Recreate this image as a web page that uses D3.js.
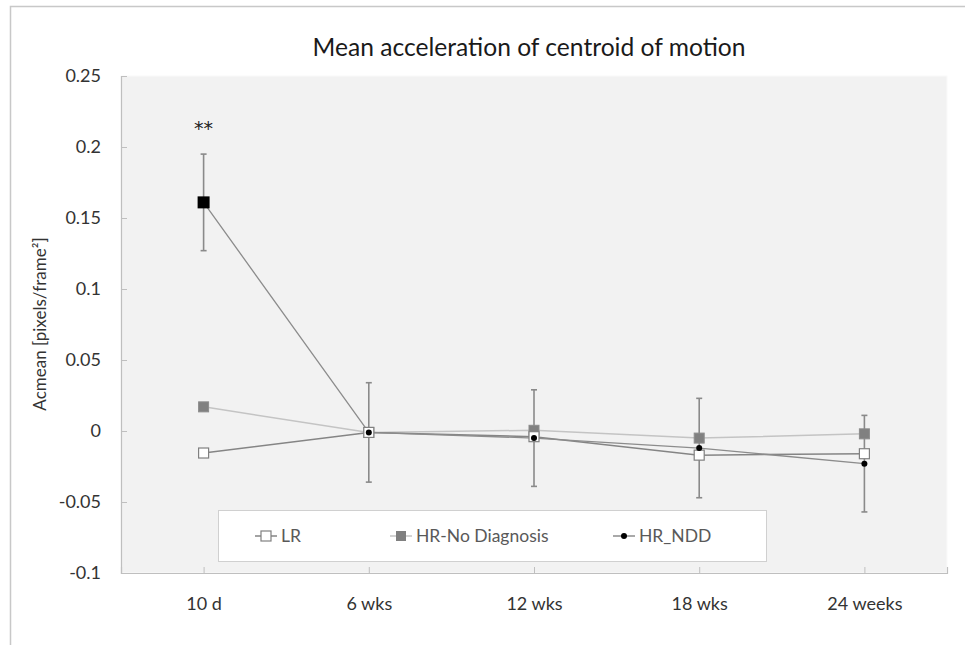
<!DOCTYPE html>
<html>
<head>
<meta charset="utf-8">
<script src="https://cdn.jsdelivr.net/npm/d3@7"></script>
<style>
  html, body { margin: 0; padding: 0; background: #fff; }
  svg { display: block; font-family: Lato, "Open Sans", sans-serif; }
</style>
</head>
<body>
<svg id="chart" width="965" height="645"></svg>
<script>
// ---- data ----
const categories = ["10 d", "6 wks", "12 wks", "18 wks", "24 weeks"];
const seriesNames = ["LR", "HR-No Diagnosis", "HR_NDD"];
const lrValues = [-0.0155, -0.001, -0.004, -0.017, -0.016];
const hrNoDiagValues = [0.017, -0.001, 0.0005, -0.005, -0.002];
const hrNddValues = [0.161, -0.001, -0.005, -0.012, -0.023];
const hrNddErrors = [0.034, 0.035, 0.034, 0.035, 0.034];
const significance = ["**", "", "", "", ""];
const yTicks = [-0.1, -0.05, 0, 0.05, 0.1, 0.15, 0.2, 0.25];
const yTickLabels = ["-0.1", "-0.05", "0", "0.05", "0.1", "0.15", "0.2", "0.25"];
const titleText = "Mean acceleration of centroid of motion";
const yLabelText = "Acmean [pixels/frame²]";

// ---- layout ----
const svg = d3.select("#chart");
const plot = { left: 121, right: 947, top: 76, bottom: 573 };
const FONT = "Lato, 'Open Sans', sans-serif";

// outer frame
svg.append("path")
  .attr("d", `M10.5,645 V6.5 H965`)
  .attr("fill", "none").attr("stroke", "#c8c8c8").attr("stroke-width", 1.5);

const x = d3.scalePoint().domain(categories).range([plot.left, plot.right]).padding(0.5);
const y = d3.scaleLinear().domain([-0.1, 0.25]).range([plot.bottom, plot.top]);

// plot background
svg.append("rect")
  .attr("x", plot.left).attr("y", plot.top)
  .attr("width", plot.right - plot.left).attr("height", plot.bottom - plot.top)
  .attr("fill", "#f2f2f2").attr("stroke", "#fafafa").attr("stroke-width", 1);

// title
svg.append("text")
  .attr("x", 529).attr("y", 56)
  .attr("text-anchor", "middle")
  .attr("font-size", 24.6).attr("fill", "#1a1a1a")
  .text(titleText);

// y axis
const yAxis = d3.axisLeft(y).tickValues(yTicks)
  .tickFormat((d, i) => yTickLabels[i]).tickSize(-6).tickPadding(20);
const gy = svg.append("g").attr("transform", `translate(${plot.left},0)`).call(yAxis);
gy.select(".domain").attr("stroke", "#bfbfbf").attr("stroke-width", 1.2);
gy.selectAll(".tick line").attr("stroke", "#bfbfbf");
gy.selectAll(".tick text").attr("font-size", 18).attr("fill", "#333")
  .attr("font-family", FONT);

// x axis
const xAxis = d3.axisBottom(x).tickSize(-6).tickPadding(24);
const gx = svg.append("g").attr("transform", `translate(0,${plot.bottom})`).call(xAxis);
gx.select(".domain").attr("stroke", "#bfbfbf").attr("stroke-width", 1.2);
gx.selectAll(".tick line").attr("stroke", "#bfbfbf");
gx.selectAll(".tick text").attr("font-size", 18).attr("fill", "#333")
  .attr("font-family", FONT);

// y label
svg.append("text")
  .attr("transform", `translate(46,324) rotate(-90)`)
  .attr("text-anchor", "middle")
  .attr("font-size", 17).attr("fill", "#333")
  .text(yLabelText);

const lineGen = d3.line().x((d, i) => x(categories[i])).y(d => y(d));

// lines
svg.append("path").datum(hrNoDiagValues).attr("d", lineGen)
  .attr("fill", "none").attr("stroke", "#c4c4c4").attr("stroke-width", 1.5);
svg.append("path").datum(lrValues).attr("d", lineGen)
  .attr("fill", "none").attr("stroke", "#858585").attr("stroke-width", 1.5);
svg.append("path").datum(hrNddValues).attr("d", lineGen)
  .attr("fill", "none").attr("stroke", "#8c8c8c").attr("stroke-width", 1.3);

// error bars (HR_NDD)
const eb = svg.append("g");
hrNddValues.forEach((v, i) => {
  const cx = x(categories[i]);
  const y1 = y(v + hrNddErrors[i]), y2 = y(v - hrNddErrors[i]);
  eb.append("line").attr("x1", cx).attr("x2", cx).attr("y1", y1).attr("y2", y2)
    .attr("stroke", "#8a8a8a").attr("stroke-width", 1.6);
  [y1, y2].forEach(yy => eb.append("line")
    .attr("x1", cx - 3).attr("x2", cx + 3).attr("y1", yy).attr("y2", yy)
    .attr("stroke", "#8a8a8a").attr("stroke-width", 1.6));
});

// markers
svg.append("g").selectAll("rect").data(hrNoDiagValues).join("rect")
  .attr("x", (d, i) => x(categories[i]) - 5).attr("y", d => y(d) - 5)
  .attr("width", 10).attr("height", 10)
  .attr("fill", "#808080").attr("stroke", "#8c8c8c").attr("stroke-width", 1);
svg.append("g").selectAll("rect").data(lrValues).join("rect")
  .attr("x", (d, i) => x(categories[i]) - 5).attr("y", d => y(d) - 5)
  .attr("width", 10).attr("height", 10)
  .attr("fill", "#ffffff").attr("stroke", "#808080").attr("stroke-width", 1.2);
const gN = svg.append("g");
hrNddValues.forEach((v, i) => {
  const cx = x(categories[i]), cy = y(v);
  if (significance[i]) {
    gN.append("rect").attr("x", cx - 6).attr("y", cy - 6).attr("width", 12).attr("height", 12)
      .attr("fill", "#000");
    svg.append("text").attr("x", cx).attr("y", y(v + hrNddErrors[i]) - 19)
      .attr("text-anchor", "middle").attr("font-size", 19)
      .attr("font-family", "'DejaVu Sans', sans-serif").attr("fill", "#222")
      .text(significance[i]);
  } else {
    gN.append("circle").attr("cx", cx).attr("cy", cy).attr("r", 3).attr("fill", "#000");
  }
});

// legend
const lg = svg.append("g");
lg.append("rect").attr("x", 218.5).attr("y", 510.5).attr("width", 548).attr("height", 51)
  .attr("fill", "#fff").attr("stroke", "#d0d0d0").attr("stroke-width", 1);
const legendItems = [
  { name: seriesNames[0], x: 266, line: "#858585", marker: "open" },
  { name: seriesNames[1], x: 401, line: "#c4c4c4", marker: "filled" },
  { name: seriesNames[2], x: 624, line: "#8c8c8c", marker: "dot" }
];
const ly = 536;
legendItems.forEach(it => {
  lg.append("line").attr("x1", it.x - 11).attr("x2", it.x + 11).attr("y1", ly).attr("y2", ly)
    .attr("stroke", it.line).attr("stroke-width", 1.5);
  if (it.marker === "open") {
    lg.append("rect").attr("x", it.x - 5).attr("y", ly - 5).attr("width", 10).attr("height", 10)
      .attr("fill", "#fff").attr("stroke", "#808080").attr("stroke-width", 1.2);
  } else if (it.marker === "filled") {
    lg.append("rect").attr("x", it.x - 5).attr("y", ly - 5).attr("width", 10).attr("height", 10)
      .attr("fill", "#808080");
  } else {
    lg.append("circle").attr("cx", it.x).attr("cy", ly).attr("r", 3).attr("fill", "#000");
  }
  lg.append("text").attr("x", it.x + 15).attr("y", ly + 6)
    .attr("font-size", 17.5).attr("fill", "#595959").text(it.name);
});
</script>
</body>
</html>
